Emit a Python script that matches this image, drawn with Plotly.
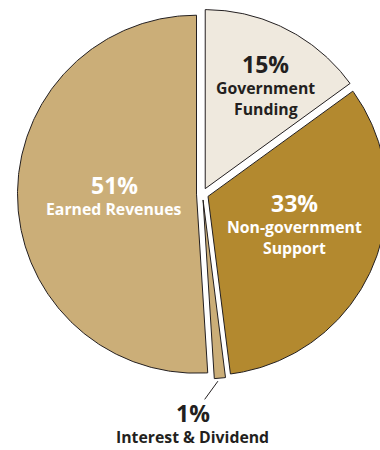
import numpy as np
import plotly.graph_objects as go

# Revenue mix, clockwise from 12 o'clock
categories = ["Government Funding", "Non-government Support", "Interest & Dividend", "Earned Revenues"]
shares = [15, 33, 1, 51]
name_lines = [["Government", "Funding"], ["Non-government", "Support"], ["Interest & Dividend"], ["Earned Revenues"]]

fills = ["#EFE9DE", "#B3892F", "#CBAE78", "#CBAE78"]
text_colors = ["#231F20", "#FFFFFF", "#231F20", "#FFFFFF"]
OUTLINE = "#231F20"

W, H = 380, 450
CX, CY, R = 202.5, 194.0, 179.0   # pie centre and radius in pixel units
PULL = 6.0                         # explode distance for every slice

# label placement: (angle in degrees clockwise from top, distance as fraction of radius)
label_polar = [(30.7, 0.66), (109, 0.51), (183, 1.11), (268, 0.46)]
FONT = "Open Sans"
PCT_SIZE, NAME_SIZE, GAP = 23, 15.8, 21

fig = go.Figure()
total = float(sum(shares))
cum = 0.0
for i, (cat, v) in enumerate(zip(categories, shares)):
    a0 = cum / total * 2 * np.pi
    a1 = (cum + v) / total * 2 * np.pi
    mid = (a0 + a1) / 2
    cum += v
    ox = CX + PULL * np.sin(mid)
    oy = CY - PULL * np.cos(mid)
    t = np.linspace(a0, a1, max(8, int(v * 6)))
    xs = np.concatenate([[ox], ox + R * np.sin(t), [ox]])
    ys = np.concatenate([[oy], oy - R * np.cos(t), [oy]])
    fig.add_trace(go.Scatter(
        x=xs, y=ys, mode="lines", fill="toself", fillcolor=fills[i],
        line=dict(color=OUTLINE, width=1), name=cat, hoverinfo="name",
        showlegend=False,
    ))

    ang, frac = label_polar[i]
    lx = ox + frac * R * np.sin(np.radians(ang))
    ly = oy - frac * R * np.cos(np.radians(ang))
    lines = name_lines[i]
    n = 1 + len(lines)
    if frac > 1:
        # outside label with a leader line from the slice rim
        rx = ox + R * np.sin(mid)
        ry = oy - R * np.cos(mid)
        fig.add_shape(type="line", xref="x", yref="y", x0=rx - 2, y0=ry + 3,
                      x1=lx + 12, y1=ly + 1, line=dict(color=OUTLINE, width=1))
        top = ly + 15
    else:
        top = ly - (n - 1) * GAP / 2 - 2
    fig.add_annotation(x=lx, y=top, text=f"{v}%", showarrow=False,
                       xref="x", yref="y", xanchor="center", yanchor="middle",
                       font=dict(family=FONT, size=PCT_SIZE, color=text_colors[i], weight="bold"))
    for j, line in enumerate(lines):
        fig.add_annotation(x=lx, y=top + 24 + j * GAP, text=line, showarrow=False,
                           xref="x", yref="y", xanchor="center", yanchor="middle",
                           font=dict(family=FONT, size=NAME_SIZE, color=text_colors[i], weight="bold"))

fig.update_layout(
    width=W, height=H, margin=dict(l=0, r=0, t=0, b=0),
    paper_bgcolor="white", plot_bgcolor="white",
    xaxis=dict(range=[0, W], visible=False, fixedrange=True),
    yaxis=dict(range=[H, 0], visible=False, fixedrange=True),
)

fig.write_html("out.html")
